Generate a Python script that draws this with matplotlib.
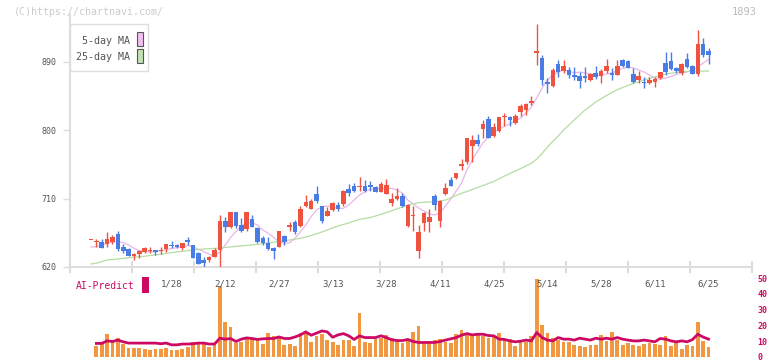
import matplotlib
matplotlib.use("Agg")
import matplotlib.pyplot as plt
import numpy as np
from matplotlib.patches import Rectangle

# daily candles (oldest -> newest)
opens = [655, 652.5, 653, 650.3, 653, 663.5, 646.8, 643.7, 634.5, 637,
         639.3, 641, 642.4, 640.5, 643.7, 649, 649, 645.4, 655.6, 649,
         638.8, 629.2, 629.2, 633.6, 642.4, 681, 672.3, 692.4, 675.3, 669.6,
         683.2, 671.8, 657.8, 651.2, 644.4, 646.7, 660.8, 672.3, 679.7, 674,
         700.4, 697, 716.6, 700.4, 687.6, 695, 701.7, 702.5, 722.7, 726.7,
         725.8, 726.7, 727.6, 725, 719, 715.7, 704.8, 709, 713.5, 674,
         687.6, 641.5, 678.6, 679.7, 714, 681, 716, 734.6, 736.9, 753.6,
         757.7, 778.8, 786.7, 801.7, 815, 791.9, 799.4, 818, 817.2, 810,
         824.6, 826.8, 835.7, 902.2, 895.7, 863, 858.4, 887.4, 878.5, 879.4,
         872.8, 871.5, 871.5, 866.3, 876, 871.5, 878.5, 875, 872.8, 893,
         891.3, 874.2, 866.3, 864, 862, 864, 868.5, 888.7, 891, 881.7,
         876, 894.4, 884.7, 874.2, 913.7, 904.5]
closes = [655.5, 653.5, 645.4, 656.5, 659.5, 644, 641, 635, 637, 641.5,
          645, 642.5, 640, 641.5, 650.3, 647, 646.3, 651.6, 653, 632.3,
          624.3, 625.7, 632.7, 642.4, 681, 672.3, 692.4, 674.4, 667.8, 692.4,
          673, 653.3, 651.2, 643.3, 641.5, 667.4, 653.3, 675, 666.5, 696,
          705.5, 707, 707.3, 681, 694, 704.8, 696.4, 720, 717, 720.5,
          727, 720.5, 725.8, 719, 729.3, 728, 709, 713.5, 700.7, 701.7,
          688.5, 666.5, 691.1, 686.3, 701.7, 707.3, 723.6, 727, 743.6, 755.4,
          789.9, 787.6, 782.4, 808.3, 789.9, 804.2, 817, 819.3, 813.6, 818.9,
          832, 834.4, 838.6, 904.5, 866.3, 861, 880, 876.4, 884.7, 872.8,
          869.8, 865.3, 869.3, 874.2, 869.8, 878.5, 885.3, 873.3, 884.7, 885.3,
          881.7, 864, 871, 862, 866.3, 867.2, 877, 877, 881.3, 878.5,
          887.4, 883.8, 873.8, 913.7, 899.2, 899.2]
highs = [655.5, 657, 656.5, 666, 662, 667.4, 650, 645, 638, 642.4,
         646.7, 646.7, 643, 646.7, 650.3, 654, 650, 651.6, 659, 649,
         640, 632.7, 634.5, 644.6, 689, 685.5, 692.4, 692.4, 685, 692.4,
         688.5, 673, 660.8, 659, 646, 667.4, 662, 679.7, 682, 700,
         714.8, 709, 726.7, 700.4, 698.6, 706, 706, 721.4, 729.3, 730,
         738, 734.6, 733.3, 726.7, 731.5, 735.9, 718, 723.6, 717, 703,
         700.4, 675.3, 693, 696.4, 716, 708.2, 730, 738, 744.3, 762,
         789.9, 793.8, 795, 813.6, 818.9, 809.5, 818, 822.4, 819, 821,
         834.7, 835.7, 845, 940, 899, 868.5, 881.7, 892.6, 892.6, 883,
         883, 877, 883, 876, 884.7, 880.4, 894, 881.7, 893, 894.4,
         893, 882, 878.5, 869.8, 870.6, 870.6, 877, 903, 902.5, 883.8,
         889, 902, 886, 932, 921, 908]
lows = [655, 646.7, 645.4, 646.7, 650, 641.5, 638, 634.5, 629, 632,
        638, 638, 636, 637, 639.7, 645.4, 645, 642.8, 649.4, 631.5,
        624, 620.4, 627, 632.7, 620.4, 666.5, 671, 672, 666.5, 668,
        673, 652, 649.4, 642.4, 630, 646, 649, 667.8, 664, 672.3,
        699.4, 696.4, 704.8, 677.5, 687.6, 694, 694, 700.7, 714, 719,
        720.5, 719, 720.5, 719, 718.4, 715.7, 700.4, 708.2, 698.6, 673,
        667.8, 631.5, 667.8, 666.5, 695, 673, 714.8, 727, 736, 747.7,
        755.6, 758.7, 778.8, 789.9, 789.9, 790.8, 798, 805.7, 805.7, 808.3,
        819.3, 820, 833.4, 886, 859.7, 849.6, 857.5, 870.6, 875, 868.5,
        866.3, 856.2, 864, 865, 867.2, 862.7, 875, 866.3, 872.8, 883.8,
        881.7, 862.7, 862, 855.4, 861, 856.7, 868, 872.8, 879.4, 876,
        872.8, 882, 873.8, 871.5, 896.6, 888]

ma5 = [646.3, 646.7, 649.0, 651.2, 652.9, 653.3, 652.0, 649.0, 644.6, 641.5,
       640.2, 640.2, 640.2, 641.5, 642.4, 644.6, 645.4, 646.7, 648.1, 646.7,
       643.3, 640.2, 637.1, 633.6, 640.2, 649.0, 659.1, 666.5, 674.0, 677.6,
       678.3, 675.3, 668.7, 664.4, 659.1, 653.3, 651.2, 652.0, 657.8, 666.5,
       675.3, 686.2, 695.1, 699.4, 700.3, 699.4, 697.3, 697.3, 701.7, 708.2,
       714.8, 719.2, 722.3, 722.7, 723.6, 723.6, 723.6, 721.4, 717.1, 708.2,
       703.0, 697.7, 693.8, 689.8, 688.5, 691.1, 700.3, 709.6, 720.1, 730.6,
       747.7, 760.9, 772.8, 783.3, 791.2, 796.5, 801.7, 805.7, 808.3, 812.3,
       816.2, 822.8, 830.7, 842.6, 855.8, 866.3, 872.9, 876.8, 879.4, 878.1,
       875.5, 876.8, 875.5, 874.2, 872.2, 872.9, 874.2, 875.5, 878.8, 881.4,
       883.4, 882.1, 879.4, 876.8, 872.9, 868.9, 867.2, 868.9, 870.9, 873.5,
       875.5, 876.8, 879.4, 883.4, 888.7, 893.3]
ma25 = [624.0, 624.9, 627.2, 629.2, 629.9, 630.5, 631.5, 632.1, 632.9, 633.6,
        634.2, 635.1, 635.8, 636.9, 637.9, 638.8, 639.8, 640.7, 641.5, 642.4,
        643.0, 643.7, 644.1, 644.6, 645.0, 645.7, 646.5, 647.1, 647.8, 648.4,
        649.2, 649.9, 650.7, 651.6, 652.7, 653.6, 654.5, 655.6, 656.6, 657.9,
        659.4, 661.5, 663.7, 666.1, 668.7, 671.4, 674.0, 676.0, 678.0, 680.6,
        682.8, 683.9, 685.2, 687.2, 689.4, 691.8, 694.1, 696.6, 699.0, 701.7,
        703.0, 704.7, 705.2, 705.6, 706.0, 706.9, 708.2, 710.9, 714.2, 717.1,
        719.4, 722.1, 724.7, 727.3, 730.0, 732.6, 736.3, 739.8, 743.1, 746.4,
        749.7, 753.0, 756.6, 762.2, 769.5, 778.0, 785.3, 792.5, 800.4, 807.0,
        813.6, 820.2, 826.8, 832.0, 837.3, 841.7, 845.9, 849.8, 853.5, 856.4,
        859.0, 861.9, 864.0, 866.3, 868.5, 870.2, 872.2, 874.2, 875.2, 876.2,
        877.2, 877.6, 877.9, 878.0, 878.1, 878.1]

# AI-Predict panel (no value on the first day)
ai_bars = [np.nan,
           6.9, 8, 14.4, 9.2, 11.9, 8.2, 5.6, 5.6, 5.6, 5,
           4.4, 5, 5, 5.6, 4.4, 4.4, 5, 6.3, 9.4, 9.4,
           9.4, 6.3, 7.5, 44.7, 22, 19, 8.8, 9.8, 12.3, 11.7, 11.3,
           8.2, 15.1, 13, 12.3, 7.5, 8.2, 6.7, 15.5, 15.5, 9.6,
           13.4, 14.4, 10.7, 9.6, 7.5, 10.7, 10.7, 7.1, 27.6, 9.6,
           8.8, 11.7, 12.3, 13.8, 11.9, 10.2, 8.8, 11.3, 15.9, 19.6,
           9.2, 9.2, 10.7, 11.3, 9.2, 8.8, 14.4, 17.1, 15.5, 13.8,
           14.4, 13.4, 11.9, 13.4, 15.1,
           11.7, 11.3, 7.1, 10.2, 9.6, 13.4, 49.6, 20.1, 15.1, 11.9,
           10.7, 9.6, 9.6, 7.5, 6.7, 6.5, 7.5, 7.5, 13.8, 10.2,
           15.7, 10.7, 7.5, 8.8, 7.7, 7.1, 8.2, 8.8, 8.2, 7.7,
           13.4, 7.1, 9.8, 5, 7.7, 7.1, 22.1, 10.2, 6.5]
ai_line = [np.nan,
           8.6, 8.6, 10.2, 9.8, 10.7, 9.6, 8.8, 8.8, 8.8, 8.8,
           8.8, 8.8, 8.4, 8.8, 7.7, 7.7, 8.2, 8.2, 8.4, 8.8,
           8.8, 8.2, 8.2, 11.9, 11.3, 11.7, 9.8, 11.3, 12.1, 11.7, 11.1,
           11.5, 11.7, 11.7, 12.7, 11.7, 11.7, 12.7, 14.0, 15.9, 13.8,
           15.1, 16.5, 15.9, 12.5, 14.0, 14.8, 13.4, 11.1, 13.4, 12.3,
           12.3, 12.3, 13.4, 12.3, 10.9, 10.4, 10.4, 11.1, 9.8, 9.2,
           9.2, 9.2, 9.2, 9.8, 10.7, 11.5, 12.3, 13.8, 14.8, 14.0,
           14.4, 14.4, 13.6, 13.4, 11.3,
           11.1, 10.2, 9.6, 10.0, 10.7, 10.2, 15.5, 12.3, 10.7, 10.2,
           12.3, 11.3, 11.3, 10.7, 11.9, 11.3, 10.7, 11.9, 11.3, 11.9,
           11.3, 12.3, 11.3, 10.7, 10.2, 10.2, 10.7, 10.2, 9.6, 11.7,
           11.3, 10.2, 9.6, 10.2, 9.6, 11.0, 14.4, 12.6, 11.3]

date_labels = ['1/28', '2/12', '2/27', '3/13', '3/28', '4/11', '4/25',
               '5/14', '5/28', '6/11', '6/25']
label_days = [15, 25, 35, 45, 55, 65, 75, 85, 95, 105, 115]
price_ticks = [620, 710, 800, 890]

W, H = 772, 361
RED = '#ef5340'
BLUE = '#4a7ce6'
GRID = '#dddddd'
MONO = 'DejaVu Sans Mono'


def fx(px):
    return px / W


def fy(py):
    return 1 - py / H


fig = plt.figure(figsize=(W / 100, H / 100), dpi=100)
ax2 = fig.add_axes([fx(70), fy(357), 682 / W, 79 / H])
ax = fig.add_axes([fx(70), fy(267), 682 / W, 252 / H])
ax2.patch.set_visible(False)

n = len(closes)
x = np.arange(n)
o = np.array(opens)
c = np.array(closes)
up = c >= o
colors = np.where(up, RED, BLUE)

ax.vlines(x, lows, highs, color=colors, lw=1.0, zorder=3)
body_lo = np.minimum(o, c)
body_h = np.maximum(np.abs(c - o), 1.3)
ax.bar(x, body_h, bottom=body_lo, width=0.85, color=colors, zorder=4)

ax.plot(x, ma5, color='#e8b6ea', lw=0.9, zorder=2)
ax.plot(x, ma25, color='#b6dca2', lw=0.9, zorder=2)

xlim = (-21 / 5.37, 661 / 5.37)
ax.set_xlim(*xlim)
ax.set_ylim(620, 620 + 252 * 1.317)
for s in ['top', 'right']:
    ax.spines[s].set_visible(False)
for s in ['left', 'bottom']:
    ax.spines[s].set_color(GRID)
    ax.spines[s].set_linewidth(1.5)

ax.set_yticks(price_ticks)
ax.set_yticklabels([str(v) for v in price_ticks], fontfamily=MONO)
ax.tick_params(axis='y', length=5, width=1, color=GRID, labelsize=6,
               labelcolor='#555555', pad=5)

ax.set_xticks(np.linspace(xlim[0], xlim[1], 12))
ax.set_xticklabels([])
ax.tick_params(axis='x', which='major', direction='inout', length=8,
               width=1.5, color=GRID)
ax.set_xticks(label_days, minor=True)
ax.set_xticklabels(date_labels, minor=True, fontfamily=MONO)
ax.tick_params(axis='x', which='minor', length=0, labelsize=6.5,
               labelcolor='#555555', pad=9)

# AI-Predict panel
ax2.bar(x, ai_bars, width=0.7, color='#f0973f', zorder=2)
ax2.plot(x, ai_line, color='#cc0a64', lw=2.0, zorder=3)
ax2.set_xlim(*xlim)
ax2.set_ylim(0, 50)
for s in ax2.spines.values():
    s.set_visible(False)
ax2.set_xticks([])
ax2.yaxis.tick_right()
ax2.set_yticks([0, 10, 20, 30, 40, 50])
ax2.set_yticklabels(['0', '10', '20', '30', '40', '50'], fontfamily=MONO,
                    fontweight='bold')
ax2.tick_params(axis='y', length=0, labelsize=6, labelcolor='#cc0a64', pad=4)

# legend box
fig.add_artist(Rectangle((fx(70), fy(71)), 78 / W, 47 / H,
                         transform=fig.transFigure, facecolor='white',
                         edgecolor=GRID, lw=1, zorder=5))
fig.text(fx(130), fy(41.5), '5-day MA', ha='right', va='center',
         fontsize=7.2, color='#555555', family=MONO, zorder=6)
fig.text(fx(130), fy(56.5), '25-day MA', ha='right', va='center',
         fontsize=7.2, color='#555555', family=MONO, zorder=6)
fig.add_artist(Rectangle((fx(137), fy(46)), 5.5 / W, 14 / H,
                         transform=fig.transFigure, facecolor='#f0c0f0',
                         edgecolor='#555555', lw=0.8, zorder=6))
fig.add_artist(Rectangle((fx(137), fy(63)), 5.5 / W, 14 / H,
                         transform=fig.transFigure, facecolor='#c2e2b2',
                         edgecolor='#555555', lw=0.8, zorder=6))

fig.text(fx(14), fy(12), '(C)https://chartnavi.com/', ha='left', va='center',
         fontsize=7.2, color='#cccccc', family=MONO)
fig.text(fx(757), fy(12), '1893', ha='right', va='center',
         fontsize=7.5, color='#bbbbbb', family=MONO)

fig.text(fx(76), fy(286), 'AI-Predict', ha='left', va='center',
         fontsize=7, color='#cc0a64', family=MONO)
fig.add_artist(Rectangle((fx(142), fy(293)), 7 / W, 16 / H,
                         transform=fig.transFigure, facecolor='#cc0a64',
                         edgecolor='none'))

fig.savefig('out.png', dpi=100)
